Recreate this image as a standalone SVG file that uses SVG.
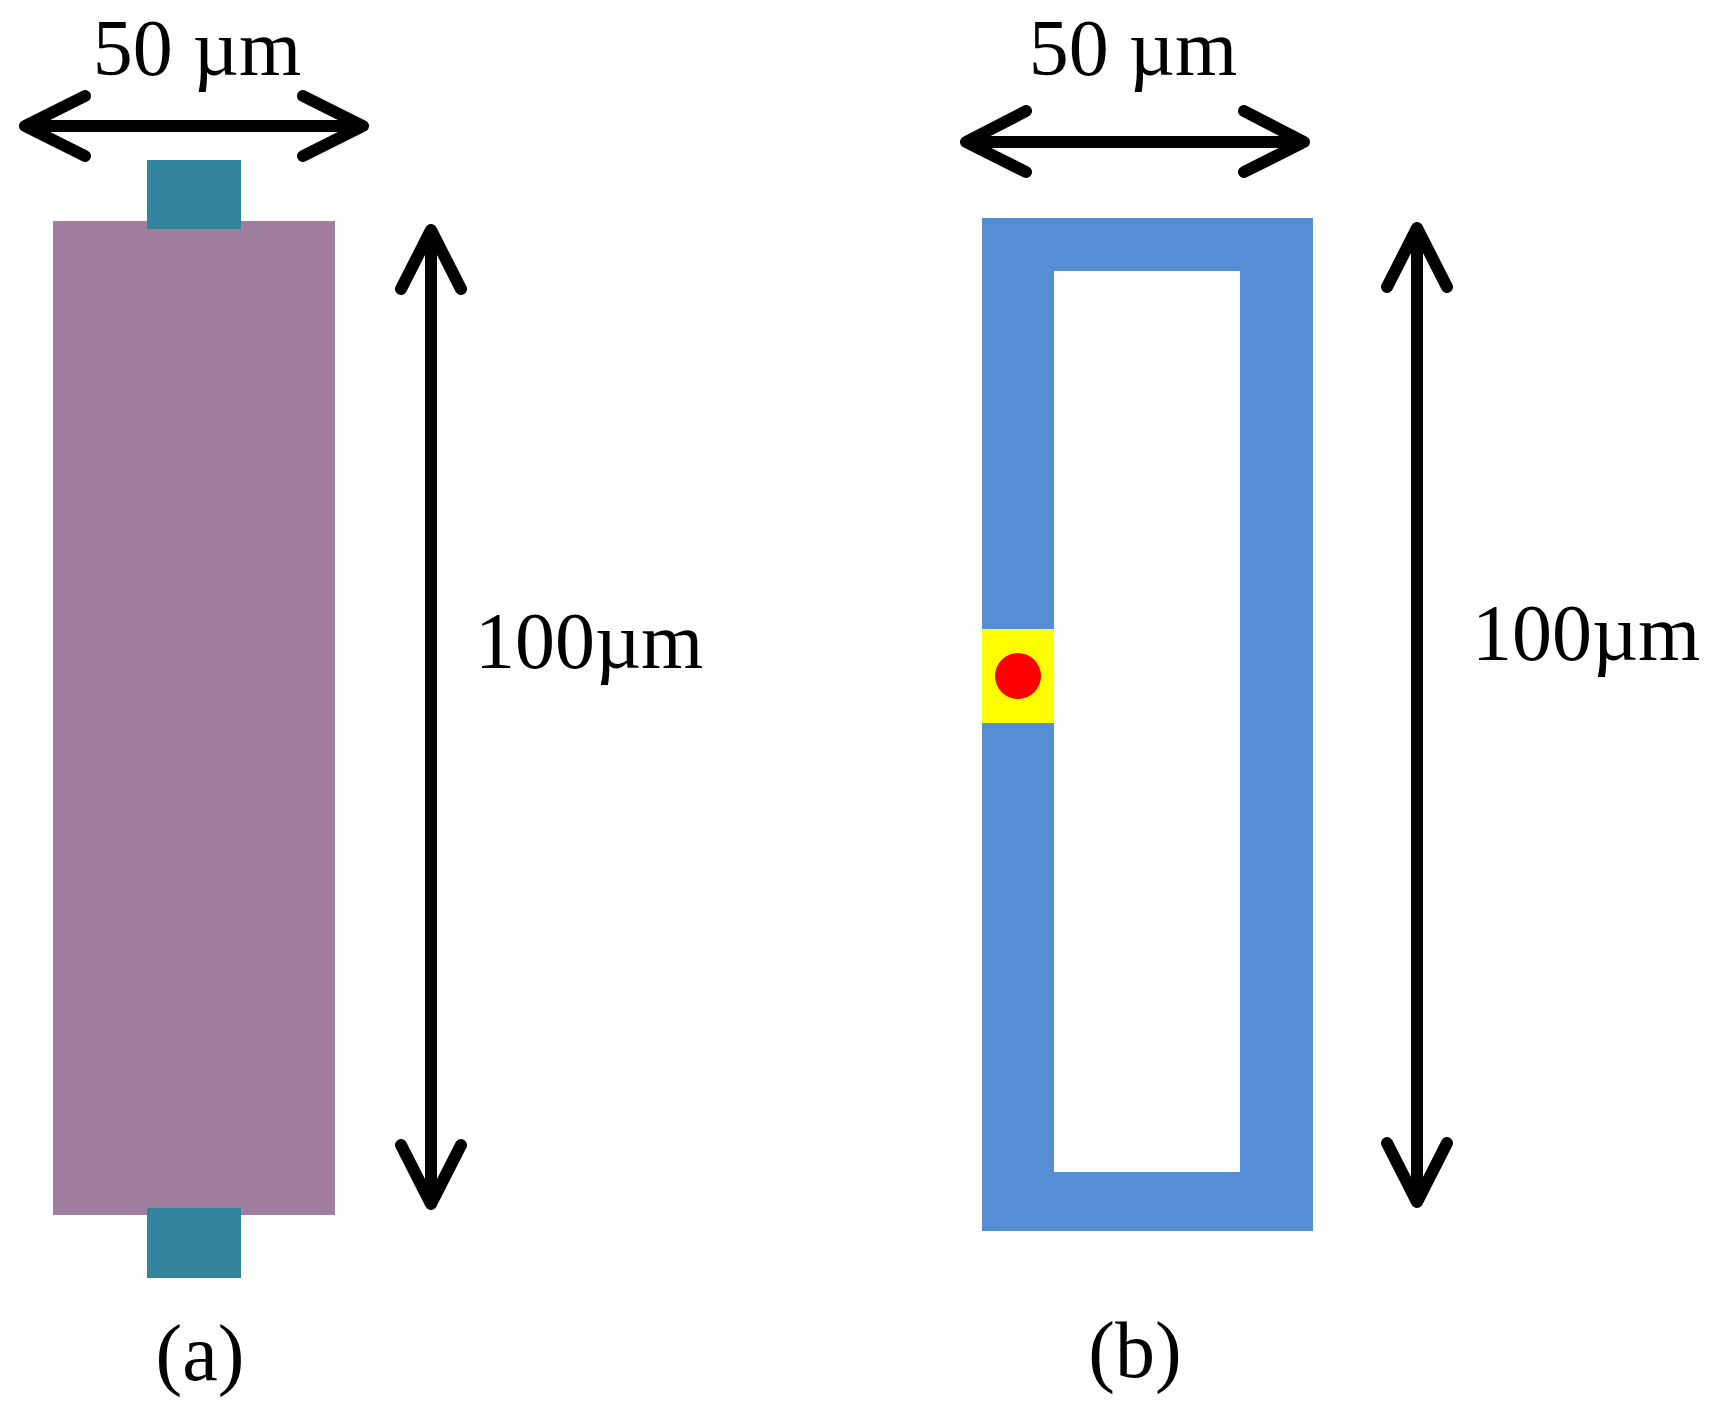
<svg xmlns="http://www.w3.org/2000/svg" width="1711" height="1415" viewBox="0 0 1711 1415">
<style>
.t{font-family:"Liberation Serif","Times New Roman",serif;font-size:80px;fill:#000}
.arr{fill:none;stroke:#000;stroke-width:12;stroke-linecap:round;stroke-linejoin:round}
</style>
<rect width="1711" height="1415" fill="#fff"/>
<g id="panel-a">
  <rect id="resistor" x="53" y="221" width="282" height="994" fill="#A07E9F"/>
  <rect id="contact-top" x="147" y="160" width="94" height="69" fill="#31849B"/>
  <rect id="contact-bottom" x="147" y="1208" width="94" height="70" fill="#31849B"/>
  <text class="t" x="197" y="75" text-anchor="middle">50 µm</text>
  <text class="t" x="475" y="668">100µm</text>
  <text class="t" x="200" y="1380" text-anchor="middle">(a)</text>
</g>
<g id="panel-b">
  <path id="loop" d="M982 218H1313V1231H982Z M1054 271V1172H1240V271Z" fill="#558ED5" fill-rule="evenodd"/>
  <rect id="pad" x="982" y="629" width="72" height="94" fill="#FFFF00"/>
  <circle id="dot" cx="1018" cy="676" r="23" fill="#FF0000"/>
  <text class="t" x="1133" y="75" text-anchor="middle">50 µm</text>
  <text class="t" x="1472" y="660">100µm</text>
  <text class="t" x="1135" y="1377" text-anchor="middle">(b)</text>
</g>
<g id="connectors">
  <path class="arr" d="M25 126H363 M85 96L25 126L85 156 M303 96L363 126L303 156"/>
  <path class="arr" d="M966 142H1304 M1026 111L966 142L1026 172 M1244 111L1304 142L1244 172"/>
  <path class="arr" d="M431 230V1204 M401 289L431 230L461 289 M401 1145L431 1204L461 1145"/>
  <path class="arr" d="M1417 228V1202 M1387 287L1417 228L1447 287 M1387 1143L1417 1202L1447 1143"/>
</g>
</svg>
